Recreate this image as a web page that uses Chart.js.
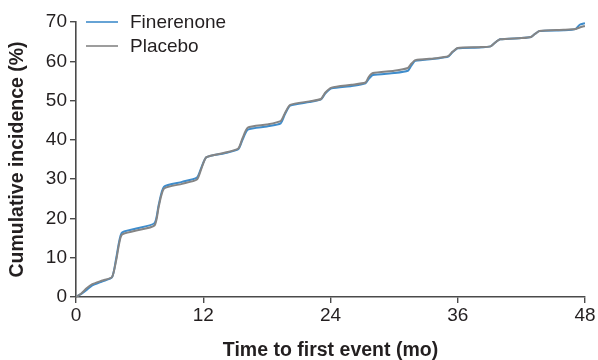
<!DOCTYPE html>
<html>
<head>
<meta charset="utf-8">
<script src="https://cdn.jsdelivr.net/npm/chart.js@4"></script>
<style>
  html, body { margin: 0; padding: 0; background: #fff; }
  #wrap { width: 598px; height: 360px; position: relative; }
</style>
</head>
<body>
<div id="wrap"><canvas id="incidenceChart"></canvas></div>
<script>
// Months since randomisation
const months = [0, 0.5, 1.0, 1.5, 2.5, 3.4, 3.8, 4.3, 5.5, 7.4, 7.8, 8.3, 10, 11.4, 11.8, 12.3,
	14, 15.3, 15.7, 16.2, 18, 19.3, 19.7, 20.2, 22, 23.1, 23.5, 24.1, 26, 27.3, 27.6, 28.0,
	30, 31.3, 31.6, 32.0, 34, 35.1, 35.5, 36.0, 38, 39.1, 39.5, 40.0, 42, 42.9, 43.3, 43.7,
	46, 47.1, 47.5, 48];
// Cumulative incidence (%)
const finerenone = [0, 0.8, 1.8, 2.9, 4.0, 5.0, 10, 16.3, 17.3, 18.8, 23.5, 28.1, 29.3, 30.4, 32.8, 35.6,
	36.6, 37.6, 40, 42.6, 43.4, 44.2, 46.5, 48.7, 49.6, 50.3, 51.8, 53.1, 53.7, 54.4, 55.5, 56.5,
	57.0, 57.6, 58.8, 60.1, 60.7, 61.2, 62.3, 63.3, 63.5, 63.8, 64.7, 65.6, 65.9, 66.2, 67.0, 67.7,
	67.9, 68.2, 69.3, 69.7];
const placebo = [0, 0.9, 2.2, 3.2, 4.2, 5.1, 9.5, 15.8, 16.8, 18.2, 23.0, 27.6, 28.8, 29.9, 32.5, 35.6,
	36.7, 37.8, 40.4, 43.1, 43.9, 44.8, 46.8, 48.9, 49.8, 50.4, 52.0, 53.3, 54.0, 54.6, 56.0, 57.0,
	57.6, 58.3, 59.3, 60.3, 60.8, 61.3, 62.4, 63.4, 63.6, 63.8, 64.7, 65.6, 65.9, 66.2, 67.0, 67.7,
	68.0, 68.2, 68.6, 69.0];
const xTicks = [0, 12, 24, 36, 48];
const yTicks = [0, 10, 20, 30, 40, 50, 60, 70];

const FONT = "'Liberation Sans', Arial, sans-serif";
const AXIS = '#4a4a4a';
const TEXT = '#231f20';

function pts(ys) {
	return months.map((m, i) => ({ x: m, y: ys[i] }));
}

// legend drawn inside the plot, top-left
const insideLegend = {
	id: 'insideLegend',
	afterDraw(chart) {
		const ctx = chart.ctx;
		const items = [
			{ label: 'Finerenone', color: '#3f8ccb', y: 22 },
			{ label: 'Placebo', color: '#858585', y: 46 }
		];
		ctx.save();
		ctx.font = '19px ' + FONT;
		ctx.textBaseline = 'middle';
		items.forEach(it => {
			ctx.strokeStyle = it.color;
			ctx.lineWidth = 1.6;
			ctx.beginPath();
			ctx.moveTo(86, it.y);
			ctx.lineTo(118, it.y);
			ctx.stroke();
			ctx.fillStyle = TEXT;
			ctx.fillText(it.label, 130, it.y + 1);
		});
		ctx.restore();
	}
};

const ctx = document.getElementById('incidenceChart').getContext('2d');
new Chart(ctx, {
	type: 'line',
	data: {
		datasets: [{
			label: 'Finerenone',
			data: pts(finerenone),
			borderColor: '#3f8ccb',
			borderWidth: 2,
			pointRadius: 0,
			tension: 0.2,
			fill: false,
			order: 1
		}, {
			label: 'Placebo',
			data: pts(placebo),
			borderColor: '#858585',
			borderWidth: 2,
			pointRadius: 0,
			tension: 0.2,
			fill: false,
			order: 0
		}]
	},
	options: {
		responsive: true,
		maintainAspectRatio: false,
		animation: false,
		layout: { padding: { left: 0, right: 13, top: 22, bottom: 0 } },
		plugins: { legend: { display: false }, tooltip: { enabled: false } },
		scales: {
			x: {
				type: 'linear',
				min: 0,
				max: 48,
				afterBuildTicks: s => { s.ticks = xTicks.map(v => ({ value: v })); },
				afterFit: s => { s.height = 63; },
				border: { color: AXIS, width: 1.6 },
				grid: { display: true, drawOnChartArea: false, drawTicks: true, tickLength: 6, color: AXIS, lineWidth: 1.4 },
				ticks: { color: TEXT, font: { family: FONT, size: 19 }, padding: 1, maxRotation: 0 },
				title: {
					display: true,
					text: 'Time to first event (mo)',
					color: TEXT,
					font: { family: FONT, size: 19.5, weight: 'bold', lineHeight: 1 },
					padding: { top: 0, bottom: 0 }
				}
			},
			y: {
				min: 0,
				max: 70,
				afterBuildTicks: s => { s.ticks = yTicks.map(v => ({ value: v })); },
				afterFit: s => { s.width = 76; },
				border: { color: AXIS, width: 1.6 },
				grid: { display: true, drawOnChartArea: false, drawTicks: true, tickLength: 6, color: AXIS, lineWidth: 1.4 },
				ticks: { color: TEXT, font: { family: FONT, size: 19 }, padding: 3 },
				title: {
					display: true,
					text: 'Cumulative incidence (%)',
					color: TEXT,
					font: { family: FONT, size: 19.5, weight: 'bold', lineHeight: 1 },
					padding: { top: 8, bottom: 0 }
				}
			}
		}
	},
	plugins: [insideLegend]
});
</script>
</body>
</html>
